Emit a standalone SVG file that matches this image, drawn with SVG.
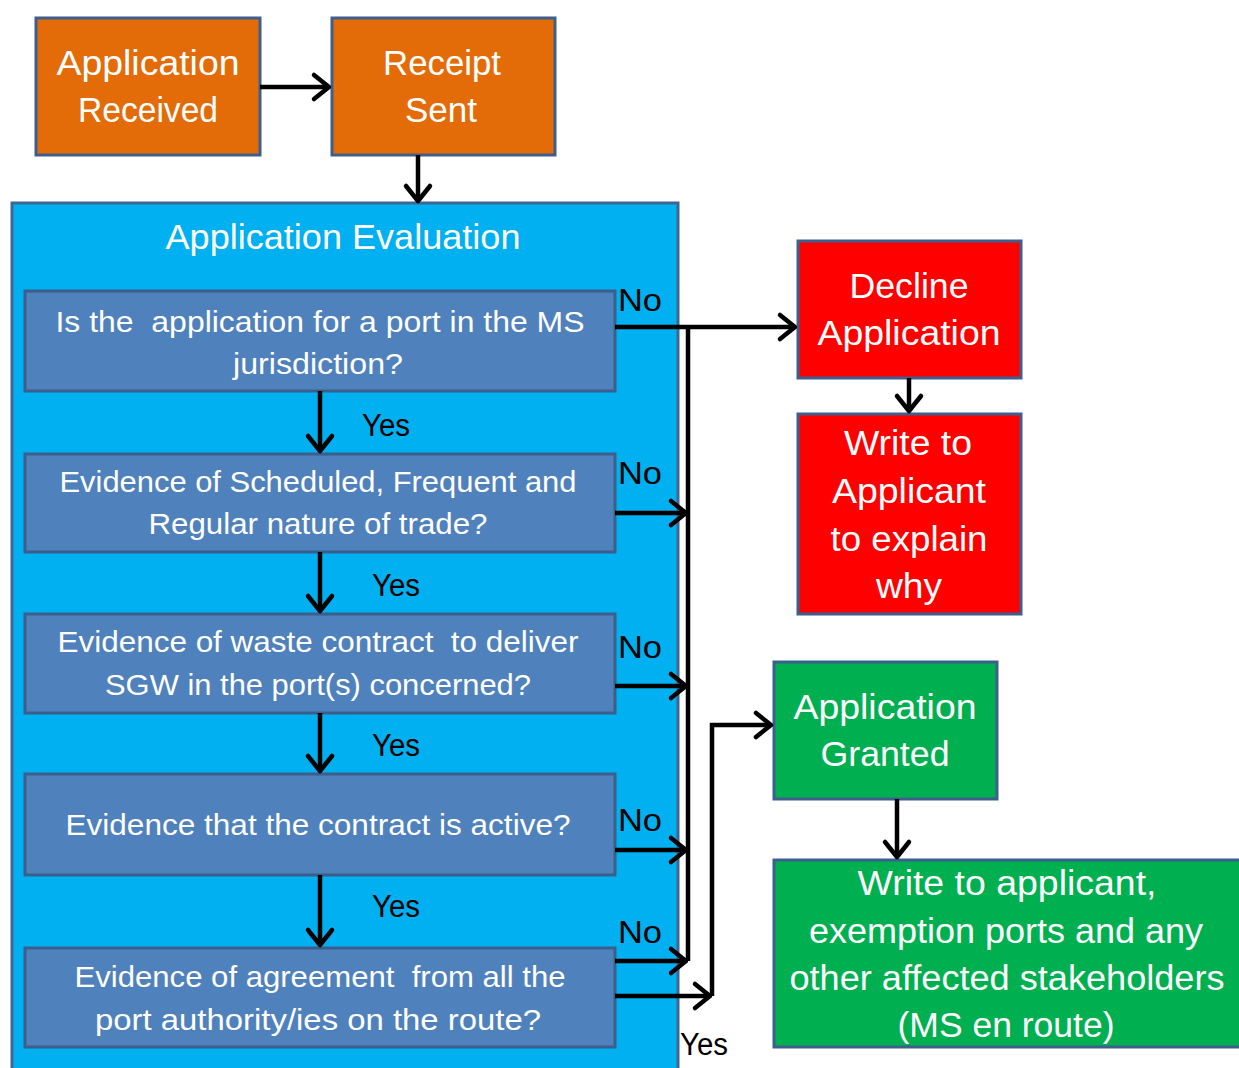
<svg xmlns="http://www.w3.org/2000/svg" width="1239" height="1068" viewBox="0 0 1239 1068">
<style>
.orange{fill:#e36c09;stroke:#3c5f8d;stroke-width:3}
.red{fill:#ff0000;stroke:#3c5f8d;stroke-width:3}
.green{fill:#00b050;stroke:#3c5f8d;stroke-width:3}
.cont{fill:#00b0f0;stroke:#3e6696;stroke-width:3}
.q{fill:#4f81bd;stroke:#3a5f8b;stroke-width:3}
text{font-family:"Liberation Sans",Arial,sans-serif;text-anchor:middle}
.big{font-size:35px;fill:#fff}
.qt{font-size:30px;fill:#fff;white-space:pre}
.lbl{font-size:31px;fill:#000}
.c{fill:none;stroke:#000;stroke-width:4.5}
</style>
<defs>
<marker id="ah" markerUnits="userSpaceOnUse" markerWidth="24" markerHeight="32" viewBox="0 0 24 32" refX="19" refY="16" orient="auto">
<path d="M4,4 L19,16 L4,28" fill="none" stroke="#000" stroke-width="4.5" stroke-linecap="round" stroke-linejoin="round"/>
</marker>
</defs>

<g id="container">
<rect class="cont" x="12" y="203" width="666" height="900"/>
<text class="big" x="343" y="249" textLength="355" lengthAdjust="spacingAndGlyphs">Application Evaluation</text>
</g>

<g id="app-received">
<rect class="orange" x="36" y="18" width="224" height="137"/>
<text class="big" x="148" y="75" textLength="183" lengthAdjust="spacingAndGlyphs">Application</text>
<text class="big" x="148" y="122" textLength="140" lengthAdjust="spacingAndGlyphs">Received</text>
</g>

<g id="receipt-sent">
<rect class="orange" x="332" y="18" width="223" height="137"/>
<text class="big" x="442" y="75" textLength="118" lengthAdjust="spacingAndGlyphs">Receipt</text>
<text class="big" x="441" y="122" textLength="72" lengthAdjust="spacingAndGlyphs">Sent</text>
</g>

<g id="q1">
<rect class="q" x="25" y="291" width="590" height="100"/>
<text class="qt" x="320" y="332" textLength="529" lengthAdjust="spacingAndGlyphs">Is the  application for a port in the MS</text>
<text class="qt" x="318" y="374" textLength="170" lengthAdjust="spacingAndGlyphs">jurisdiction?</text>
</g>

<g id="q2">
<rect class="q" x="25" y="454" width="590" height="98"/>
<text class="qt" x="318" y="492" textLength="517" lengthAdjust="spacingAndGlyphs">Evidence of Scheduled, Frequent and</text>
<text class="qt" x="318" y="534" textLength="339" lengthAdjust="spacingAndGlyphs">Regular nature of trade?</text>
</g>

<g id="q3">
<rect class="q" x="25" y="614" width="590" height="99"/>
<text class="qt" x="318" y="652" textLength="521" lengthAdjust="spacingAndGlyphs">Evidence of waste contract  to deliver</text>
<text class="qt" x="318" y="695" textLength="426" lengthAdjust="spacingAndGlyphs">SGW in the port(s) concerned?</text>
</g>

<g id="q4">
<rect class="q" x="25" y="774" width="590" height="101"/>
<text class="qt" x="318" y="835" textLength="505" lengthAdjust="spacingAndGlyphs">Evidence that the contract is active?</text>
</g>

<g id="q5">
<rect class="q" x="25" y="948" width="590" height="99"/>
<text class="qt" x="320" y="987" textLength="491" lengthAdjust="spacingAndGlyphs">Evidence of agreement  from all the</text>
<text class="qt" x="318" y="1030" textLength="446" lengthAdjust="spacingAndGlyphs">port authority/ies on the route?</text>
</g>

<g id="decline">
<rect class="red" x="798" y="241" width="223" height="137"/>
<text class="big" x="909" y="298" textLength="119" lengthAdjust="spacingAndGlyphs">Decline</text>
<text class="big" x="909" y="345" textLength="183" lengthAdjust="spacingAndGlyphs">Application</text>
</g>

<g id="write-why">
<rect class="red" x="798" y="414" width="223" height="200"/>
<text class="big" x="908" y="455" textLength="128" lengthAdjust="spacingAndGlyphs">Write to</text>
<text class="big" x="909" y="503" textLength="154" lengthAdjust="spacingAndGlyphs">Applicant</text>
<text class="big" x="909" y="551" textLength="157" lengthAdjust="spacingAndGlyphs">to explain</text>
<text class="big" x="909" y="598" textLength="66" lengthAdjust="spacingAndGlyphs">why</text>
</g>

<g id="granted">
<rect class="green" x="774" y="662" width="223" height="137"/>
<text class="big" x="885" y="719" textLength="183" lengthAdjust="spacingAndGlyphs">Application</text>
<text class="big" x="885" y="766" textLength="129" lengthAdjust="spacingAndGlyphs">Granted</text>
</g>

<g id="write-stakeholders">
<rect class="green" x="774" y="860" width="475" height="187"/>
<text class="big" x="1007" y="895" textLength="299" lengthAdjust="spacingAndGlyphs">Write to applicant,</text>
<text class="big" x="1006" y="943" textLength="394" lengthAdjust="spacingAndGlyphs">exemption ports and any</text>
<text class="big" x="1007" y="990" textLength="435" lengthAdjust="spacingAndGlyphs">other affected stakeholders</text>
<text class="big" x="1006" y="1037" textLength="217" lengthAdjust="spacingAndGlyphs">(MS en route)</text>
</g>

<g id="labels">
<text class="lbl" x="640" y="311" textLength="44" lengthAdjust="spacingAndGlyphs">No</text>
<text class="lbl" x="640" y="484" textLength="44" lengthAdjust="spacingAndGlyphs">No</text>
<text class="lbl" x="640" y="658" textLength="44" lengthAdjust="spacingAndGlyphs">No</text>
<text class="lbl" x="640" y="831" textLength="44" lengthAdjust="spacingAndGlyphs">No</text>
<text class="lbl" x="640" y="943" textLength="44" lengthAdjust="spacingAndGlyphs">No</text>
<text class="lbl" x="386" y="436" textLength="48" lengthAdjust="spacingAndGlyphs">Yes</text>
<text class="lbl" x="396" y="596" textLength="48" lengthAdjust="spacingAndGlyphs">Yes</text>
<text class="lbl" x="396" y="756" textLength="48" lengthAdjust="spacingAndGlyphs">Yes</text>
<text class="lbl" x="396" y="917" textLength="48" lengthAdjust="spacingAndGlyphs">Yes</text>
<text class="lbl" x="704" y="1055" textLength="48" lengthAdjust="spacingAndGlyphs">Yes</text>
</g>

<g id="connectors">
<line class="c" x1="260" y1="87" x2="329" y2="87" marker-end="url(#ah)"/>
<line class="c" x1="418" y1="155" x2="418" y2="201" marker-end="url(#ah)"/>
<line class="c" x1="320" y1="391" x2="320" y2="451" marker-end="url(#ah)"/>
<line class="c" x1="320" y1="552" x2="320" y2="611" marker-end="url(#ah)"/>
<line class="c" x1="320" y1="713" x2="320" y2="771" marker-end="url(#ah)"/>
<line class="c" x1="320" y1="875" x2="320" y2="945" marker-end="url(#ah)"/>
<line class="c" x1="615" y1="327" x2="795" y2="327" marker-end="url(#ah)"/>
<polyline class="c" points="688,327 688,961"/>
<line class="c" x1="615" y1="513" x2="686" y2="513" marker-end="url(#ah)"/>
<line class="c" x1="615" y1="686" x2="686" y2="686" marker-end="url(#ah)"/>
<line class="c" x1="615" y1="850" x2="686" y2="850" marker-end="url(#ah)"/>
<line class="c" x1="615" y1="961" x2="686" y2="961" marker-end="url(#ah)"/>
<line class="c" x1="615" y1="996" x2="710" y2="996" marker-end="url(#ah)"/>
<polyline class="c" points="712,996 712,725 771,725" marker-end="url(#ah)"/>
<line class="c" x1="909" y1="378" x2="909" y2="411" marker-end="url(#ah)"/>
<line class="c" x1="897" y1="799" x2="897" y2="857" marker-end="url(#ah)"/>
</g>
</svg>
